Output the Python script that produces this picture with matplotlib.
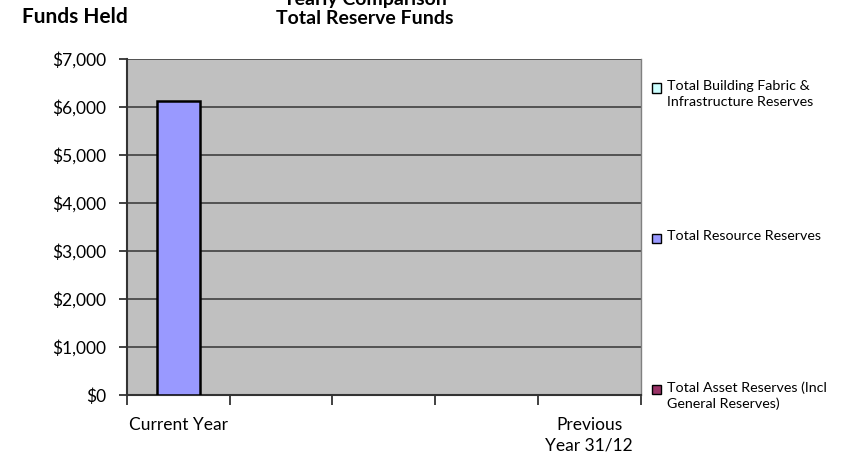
import numpy as np
import matplotlib.pyplot as plt
from matplotlib.patches import Rectangle
from matplotlib.ticker import FuncFormatter

plt.rcParams['font.family'] = ['Lato', 'DejaVu Sans']

# chart data
categories = ["Current Year", "", "", "", "Previous\nYear 31/12"]
series_names = ["Total Building Fabric &\nInfrastructure Reserves",
                "Total Resource Reserves",
                "Total Asset Reserves (Incl\nGeneral Reserves)"]
building = [0, 0, 0, 0, 0]
resource = [6130, 0, 0, 0, 0]
asset = [0, 0, 0, 0, 0]
colors = ["#CCFFFF", "#9999FF", "#993366"]
y_ticks = [0, 1000, 2000, 3000, 4000, 5000, 6000, 7000]

fig = plt.figure(figsize=(8.45, 4.57), dpi=100)
ax = fig.add_axes([0.150, 0.136, 0.608, 0.735])
ax.set_facecolor("#C0C0C0")

x = np.arange(len(categories))
w = 0.42
for i, vals in enumerate([building, resource, asset]):
    vals = np.array(vals)
    mask = vals > 0
    ax.bar(x[mask] + (i - 1) * w, vals[mask], width=w, color=colors[i],
           edgecolor="black", linewidth=1.8, zorder=3)

ax.set_xlim(-0.5, len(categories) - 0.5)
ax.set_ylim(0, 7000)
ax.set_yticks(y_ticks)
ax.yaxis.set_major_formatter(FuncFormatter(lambda v, p: "${:,.0f}".format(v)))
ax.yaxis.grid(True, color="#4a4a4a", linewidth=1.3, zorder=1)
ax.set_axisbelow(True)

# category ticks between groups, labels at centres
ax.set_xticks(np.arange(len(categories) + 1) - 0.5)
ax.set_xticklabels([])
ax.set_xticks(x, minor=True)
ax.set_xticklabels(categories, minor=True, fontsize=12.5, linespacing=1.35)
ax.tick_params(axis="x", which="minor", length=0, pad=16)
ax.tick_params(axis="x", which="major", length=7, width=1.3, color="#333333")
ax.tick_params(axis="y", length=6, width=1.3, color="#333333", labelsize=12.5, pad=9)

for s in ["left", "bottom"]:
    ax.spines[s].set_color("#333333")
    ax.spines[s].set_linewidth(1.5)
ax.spines["top"].set_visible(False)
ax.spines["right"].set_color("#808080")
ax.spines["right"].set_linewidth(1.0)

# titles (top line is cut off in the original too)
fig.text(0.432, 1.0 + 1 / 457, "Yearly Comparison", ha="center", va="center",
         fontsize=14, fontweight="bold")
fig.text(0.432, 1 - 18 / 457, "Total Reserve Funds", ha="center", va="center",
         fontsize=14, fontweight="bold")
fig.text(0.026, 1 - 17 / 457, "Funds Held", ha="left", va="center",
         fontsize=15, fontweight="bold")

# legend, spread down the right side like the original
leg_y = [88, 238, 389]
for name, c, yy in zip(series_names, colors, leg_y):
    fig.patches.append(Rectangle((652 / 845, 1 - (yy + 4.5) / 457), 9 / 845, 9 / 457,
                                 transform=fig.transFigure, facecolor=c,
                                 edgecolor="black", linewidth=1.0))
    fig.text(667 / 845, 1 - (yy - 8) / 457, name, ha="left", va="top",
             fontsize=10.3, linespacing=1.35)

fig.savefig("out.png", dpi=100)
